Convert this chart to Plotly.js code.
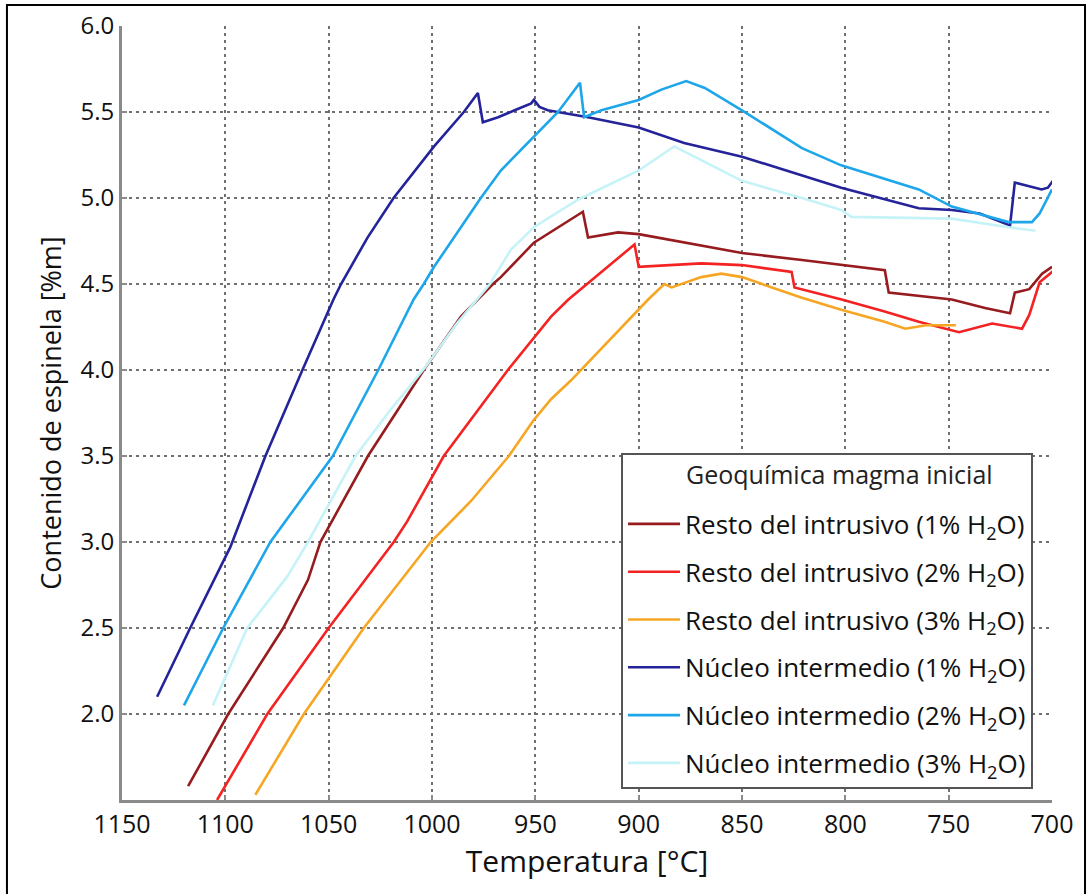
<!DOCTYPE html>
<html>
<head>
<meta charset="utf-8">
<script src="https://cdn.plot.ly/plotly-3.0.1.min.js"></script>
<style>html,body{margin:0;padding:0;background:#fff;}#chart{width:1091px;height:894px;}</style>
</head>
<body>
<div id="chart"></div>
<script>
// Series names
const seriesNames = [
  'Resto del intrusivo (1% H<sub>2</sub>O)',
  'Resto del intrusivo (2% H<sub>2</sub>O)',
  'Resto del intrusivo (3% H<sub>2</sub>O)',
  'Núcleo intermedio (1% H<sub>2</sub>O)',
  'Núcleo intermedio (2% H<sub>2</sub>O)',
  'Núcleo intermedio (3% H<sub>2</sub>O)'
];
const legendTitle = 'Geoquímica magma inicial';
const seriesColors = ['#961c1f', '#f42222', '#f6a623', '#24239a', '#1ea6ea', '#c6f3f7'];

// Resto del intrusivo (1% H2O)
const resto1T = [1118, 1098.6, 1072, 1060, 1054, 1049, 1031, 1004, 986, 970.5, 966.7, 950.7, 927, 924.5, 910, 900, 850, 821, 780.9, 779, 748.5, 732.4, 720.3, 718, 711, 704.8, 700];
const resto1Y = [1.58, 2.0, 2.5, 2.78, 3.0, 3.11, 3.5, 4.0, 4.31, 4.5, 4.54, 4.74, 4.92, 4.77, 4.80, 4.79, 4.68, 4.64, 4.58, 4.45, 4.41, 4.36, 4.33, 4.45, 4.47, 4.56, 4.60];

// Resto del intrusivo (2% H2O)
const resto2T = [1104, 1079.7, 1050, 1018.5, 1012, 994.3, 963.3, 942.4, 934, 902, 900, 869.7, 850, 826, 824.6, 801.8, 781, 764.5, 745, 729, 714.5, 711, 706, 699];
const resto2Y = [1.5, 2.0, 2.5, 3.0, 3.12, 3.5, 4.0, 4.31, 4.41, 4.73, 4.60, 4.62, 4.61, 4.57, 4.48, 4.41, 4.34, 4.28, 4.22, 4.27, 4.24, 4.32, 4.51, 4.58];

// Resto del intrusivo (3% H2O)
const resto3T = [1085.5, 1062, 1033, 1000.6, 981, 962.8, 950.7, 942.4, 932.7, 895.4, 887.6, 884, 869.7, 860, 850, 821, 802, 781, 771, 761, 746.5];
const resto3Y = [1.53, 2.0, 2.5, 3.0, 3.24, 3.5, 3.71, 3.83, 3.94, 4.41, 4.50, 4.48, 4.54, 4.56, 4.54, 4.42, 4.35, 4.28, 4.24, 4.26, 4.26];

// Núcleo intermedio (1% H2O)
const nucleo1T = [1133, 1117, 1097.6, 1080.6, 1062.7, 1047.7, 1044, 1031.2, 1018.6, 999, 984.6, 977.8, 975.4, 968, 960, 952, 950.7, 948, 944, 924.5, 900, 878, 850, 821, 802, 764.5, 748.5, 735, 720.3, 718, 705, 702, 699.5];
const nucleo1Y = [2.10, 2.5, 2.97, 3.5, 4.0, 4.41, 4.5, 4.77, 5.0, 5.30, 5.5, 5.61, 5.44, 5.47, 5.51, 5.55, 5.57, 5.53, 5.51, 5.47, 5.41, 5.32, 5.24, 5.13, 5.06, 4.94, 4.93, 4.91, 4.84, 5.09, 5.05, 5.06, 5.10];

// Núcleo intermedio (2% H2O)
const nucleo2T = [1120, 1101, 1078.2, 1048, 1026, 1008.9, 1004, 999, 976.4, 966.7, 939, 928.4, 926.4, 918, 900, 889, 877, 868, 850, 821, 802, 764.5, 748.5, 721, 709.7, 706, 700];
const nucleo2Y = [2.05, 2.5, 3.0, 3.5, 4.0, 4.41, 4.5, 4.60, 5.0, 5.16, 5.5, 5.67, 5.47, 5.51, 5.57, 5.63, 5.68, 5.64, 5.51, 5.29, 5.19, 5.05, 4.95, 4.86, 4.86, 4.91, 5.05];

// Núcleo intermedio (3% H2O)
const nucleo3T = [1106, 1089.4, 1070, 1060, 1037, 1020, 1003, 988, 972, 961.8, 950.7, 929.4, 900, 882.8, 869.7, 850, 821, 802, 797, 748.5, 721, 708];
const nucleo3Y = [2.05, 2.5, 2.80, 3.0, 3.5, 3.77, 4.02, 4.27, 4.5, 4.70, 4.83, 4.99, 5.16, 5.30, 5.22, 5.10, 5.0, 4.93, 4.89, 4.88, 4.83, 4.81];

const xTicks = [1150, 1100, 1050, 1000, 950, 900, 850, 800, 750, 700];
const yTicks = [2.0, 2.5, 3.0, 3.5, 4.0, 4.5, 5.0, 5.5, 6.0];

const allT = [resto1T, resto2T, resto3T, nucleo1T, nucleo2T, nucleo3T];
const allY = [resto1Y, resto2Y, resto3Y, nucleo1Y, nucleo2Y, nucleo3Y];

const traces = allT.map((t, i) => ({
  type: 'scatter', mode: 'lines',
  x: t, y: allY[i],
  name: seriesNames[i],
  legendgroup: 'g' + i,
  line: {color: seriesColors[i], width: 2.6},
  hoverinfo: 'skip'
}));

const font = 'Open Sans, Noto Sans, DejaVu Sans, sans-serif';

const layout = {
  width: 1091, height: 894,
  margin: {l: 122, r: 39, t: 26, b: 94},
  paper_bgcolor: '#ffffff', plot_bgcolor: '#ffffff',
  font: {family: font, color: '#111111', size: 20},
  showlegend: true,
  xaxis: {
    range: [1150, 700],
    tickvals: xTicks,
    ticktext: xTicks.map(String),
    showgrid: true, gridcolor: '#707070', gridwidth: 2, griddash: '3px,4px',
    showline: true, linecolor: '#8a8a8a', linewidth: 3,
    ticks: 'inside', ticklen: 5, tickcolor: '#8a8a8a', tickwidth: 2,
    zeroline: false,
    tickfont: {size: 25, family: font, color: '#111'},
    title: {text: 'Temperatura [°C]', font: {size: 30, family: font, color: '#111'}, standoff: 8}
  },
  yaxis: {
    range: [1.5, 6.0],
    tickvals: yTicks,
    ticktext: yTicks.map(v => v.toFixed(1)),
    showgrid: true, gridcolor: '#707070', gridwidth: 2, griddash: '3px,4px',
    showline: true, linecolor: '#8a8a8a', linewidth: 3,
    ticks: 'inside', ticklen: 5, tickcolor: '#8a8a8a', tickwidth: 2,
    zeroline: false,
    tickfont: {size: 24, family: font, color: '#111'},
    title: {text: 'Contenido de espinela [%m]', font: {size: 27, family: font, color: '#111'}, standoff: 12}
  },
  legend: {
    x: 0.5366, y: 0.4483, xanchor: 'left', yanchor: 'top',
    bgcolor: '#ffffff', bordercolor: '#555555', borderwidth: 2,
    font: {size: 26, family: font, color: '#111'},
    title: {text: '&nbsp;', side: 'top', font: {size: 35, family: font, color: '#111'}},
    traceorder: 'grouped', tracegroupgap: 11,
    itemwidth: 52
  },
  annotations: [{
    xref: 'paper', yref: 'paper', x: 0.771, y: 0.4212,
    xanchor: 'center', yanchor: 'middle', showarrow: false,
    text: legendTitle,
    font: {size: 25, family: font, color: '#222'}
  }],
  shapes: [{
    type: 'rect', xref: 'paper', yref: 'paper',
    x0: -0.1237, x1: 1.0355, y0: -0.14, y1: 1.0271,
    line: {color: '#000000', width: 2}, fillcolor: 'rgba(0,0,0,0)', layer: 'above'
  }]
};

Plotly.newPlot('chart', traces, layout, {displayModeBar: false, staticPlot: true});
</script>
</body>
</html>
